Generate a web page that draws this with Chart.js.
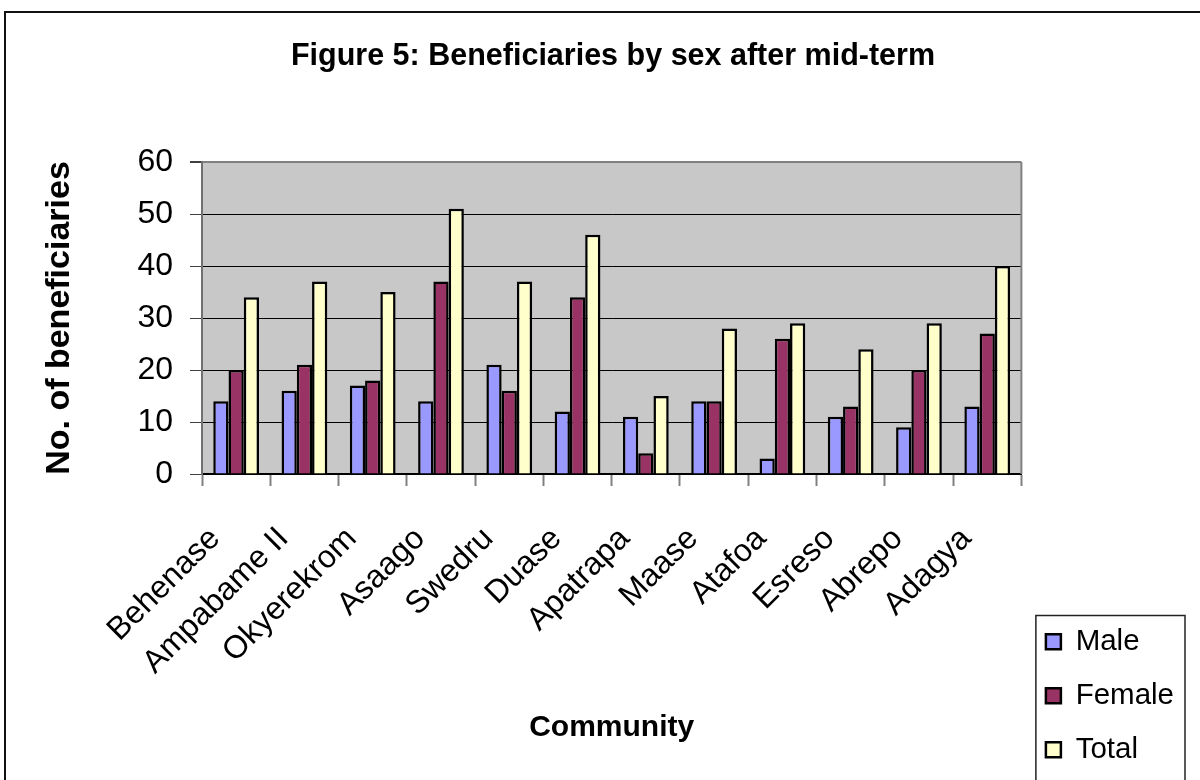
<!DOCTYPE html>
<html>
<head>
<meta charset="utf-8">
<title>Beneficiaries by sex after mid-term</title>
<script src="https://cdn.jsdelivr.net/npm/chart.js@4/dist/chart.umd.min.js"></script>
<style>
  html, body { margin: 0; padding: 0; background: #ffffff; }
  #wrap { width: 1200px; height: 780px; }
</style>
</head>
<body>
<div id="wrap"><canvas id="chart" width="1200" height="780"></canvas></div>
<script>
// Communities surveyed
const communities = ['Behenase', 'Ampabame II', 'Okyerekrom', 'Asaago', 'Swedru', 'Duase',
                     'Apatrapa', 'Maase', 'Atafoa', 'Esreso', 'Abrepo', 'Adagya'];

// Beneficiary counts per community
const maleCounts   = [14, 16, 17, 14, 21, 12, 11, 14, 3, 11, 9, 13];
const femaleCounts = [20, 21, 18, 37, 16, 34, 4, 14, 26, 13, 20, 27];
const totalCounts  = [34, 37, 35, 51, 37, 46, 15, 28, 29, 24, 29, 40];

// Value axis
const yMin = 0;
const yMax = 60;
const yStep = 10;

const FONT = '"Liberation Sans", Arial, sans-serif';

// Grey plot background plus the outer frame of the figure
const frameAndPlot = {
  id: 'frameAndPlot',
  beforeDraw(chart) {
    const { ctx, chartArea: a } = chart;
    ctx.save();
    ctx.fillStyle = '#ffffff';
    ctx.fillRect(0, 0, chart.width, chart.height);
    ctx.fillStyle = '#c8c8c8';
    ctx.fillRect(a.left, a.top, a.right - a.left, a.bottom - a.top);
    ctx.strokeStyle = '#111111';
    ctx.lineWidth = 2;
    ctx.strokeRect(5, 12, chart.width + 100, chart.height + 100);
    ctx.restore();
  },
  afterDatasetsDraw(chart) {
    const { ctx, chartArea: a } = chart;
    ctx.save();
    ctx.strokeStyle = '#808080';
    ctx.lineWidth = 2;
    ctx.beginPath();
    ctx.moveTo(a.right, a.top);
    ctx.lineTo(a.right, a.bottom);
    ctx.stroke();
    ctx.restore();
  },
  afterDraw(chart) {
    // box round the legend
    const lg = chart.legend;
    if (!lg || !lg.legendHitBoxes || !lg.legendHitBoxes.length) return;
    const first = lg.legendHitBoxes[0];
    const { ctx } = chart;
    ctx.save();
    ctx.strokeStyle = '#222222';
    ctx.lineWidth = 1.5;
    const left = first.left - 10;
    const top = first.top - 11.5;
    ctx.strokeRect(left, top, lg.right + 1 - left, chart.height + 50 - top);
    ctx.restore();
  }
};

new Chart(document.getElementById('chart'), {
  type: 'bar',
  data: {
    labels: communities,
    datasets: [
      { label: 'Male',   data: maleCounts,   backgroundColor: '#9999ff', borderColor: '#000000', borderWidth: 2.5 },
      { label: 'Female', data: femaleCounts, backgroundColor: '#993366', borderColor: '#000000', borderWidth: 2.5 },
      { label: 'Total',  data: totalCounts,  backgroundColor: '#ffffcc', borderColor: '#000000', borderWidth: 2.5 }
    ]
  },
  options: {
    responsive: false,
    animation: false,
    devicePixelRatio: 1,
    layout: { padding: { left: 42, right: 16, top: 0, bottom: -9 } },
    datasets: {
      bar: { categoryPercentage: 0.67, barPercentage: 1.0 }
    },
    plugins: {
      title: {
        display: true,
        text: 'Figure 5: Beneficiaries by sex after mid-term',
        color: '#000000',
        font: { family: FONT, size: 30.5, weight: 'bold' },
        padding: { top: 38, bottom: 87.4 }
      },
      legend: {
        display: true,
        position: 'right',
        align: 'end',
        labels: {
          boxWidth: 15,
          boxHeight: 15,
          padding: 24.5,
          color: '#000000',
          font: { family: FONT, size: 29.5 }
        }
      },
      tooltip: { enabled: false }
    },
    scales: {
      x: {
        grid: {
          offset: true,
          drawOnChartArea: false,
          drawTicks: true,
          tickLength: 12,
          tickColor: '#808080',
          tickWidth: 2
        },
        border: { display: true, color: '#000000', width: 2 },
        ticks: {
          color: '#000000',
          font: { family: FONT, size: 32 },
          minRotation: 45,
          maxRotation: 45,
          autoSkip: false,
          padding: 34,
          labelOffset: -21
        },
        title: {
          display: true,
          text: 'Community',
          color: '#000000',
          font: { family: FONT, size: 30, weight: 'bold' },
          padding: { top: 0, bottom: 43 }
        },
        afterFit(scale) { scale.height = 315; }
      },
      y: {
        min: yMin,
        max: yMax,
        grid: {
          color: (c) => (c.tick && c.tick.value === yMax ? '#808080' : '#000000'),
          lineWidth: (c) => (c.tick && c.tick.value === yMax ? 2 : 1),
          tickLength: 12,
          tickColor: '#404040'
        },
        border: { display: true, color: '#707070', width: 2 },
        ticks: {
          stepSize: yStep,
          color: '#000000',
          font: { family: FONT, size: 32 },
          padding: 17
        },
        title: {
          display: true,
          text: 'No. of beneficiaries',
          color: '#000000',
          font: { family: FONT, size: 34, weight: 'bold', lineHeight: 1.0 },
          padding: { top: 1, bottom: 0 }
        },
        afterFit(scale) { scale.width = 160; }
      }
    }
  },
  plugins: [frameAndPlot]
});
</script>
</body>
</html>
